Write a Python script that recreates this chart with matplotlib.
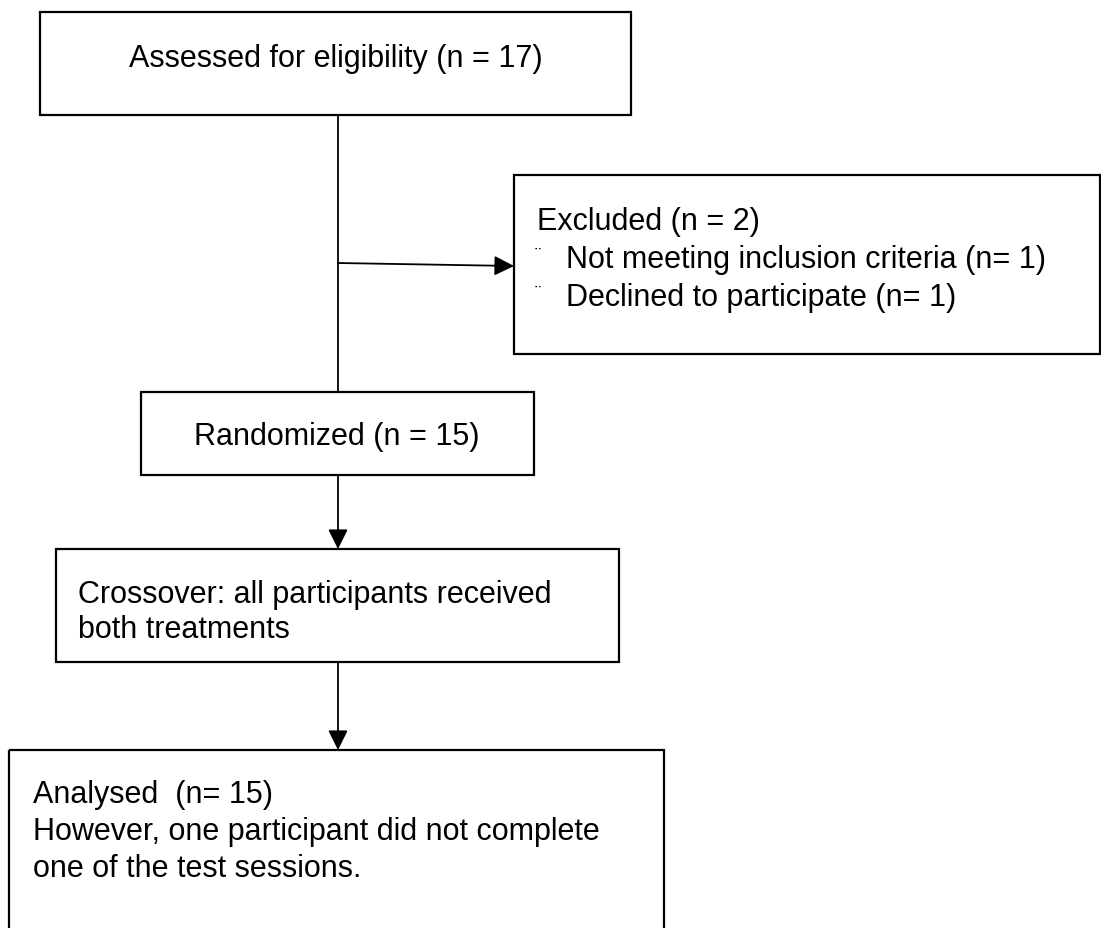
import matplotlib.pyplot as plt
from matplotlib.patches import Rectangle

# texts of the flow chart
assessed_label = 'Assessed for eligibility (n = 17)'
excluded_label = 'Excluded (n = 2)'
excluded_reasons = ['Not meeting inclusion criteria (n= 1)',
                    'Declined to participate (n= 1)']
randomized_label = 'Randomized (n = 15)'
crossover_lines = ['Crossover: all participants received', 'both treatments']
analysed_lines = ['Analysed  (n= 15)',
                  'However, one participant did not complete',
                  'one of the test sessions.']

W, H = 1101, 929
plt.rcParams['font.family'] = ['Liberation Sans', 'DejaVu Sans']
FS = 22

fig = plt.figure(figsize=(W / 100, H / 100), dpi=100)
ax = fig.add_axes([0, 0, 1, 1])
ax.set_xlim(0, W)
ax.set_ylim(H, 0)
ax.axis('off')


def box(x0, y0, x1, y1):
    ax.add_patch(Rectangle((x0, y0), x1 - x0, y1 - y0, fill=False,
                           edgecolor='black', linewidth=1.6, zorder=2))


def arrow(x0, y0, x1, y1):
    ax.annotate('', xy=(x1, y1), xytext=(x0, y0),
                arrowprops=dict(arrowstyle='-|>,head_length=1.2,head_width=0.6',
                                color='black', lw=1.3,
                                shrinkA=0, shrinkB=0))


# boxes (pixel coordinates)
box(40, 13, 631, 116)
box(514, 176, 1100, 355)
box(141, 393, 534, 476)
box(56, 550, 619, 663)
box(9, 751, 664, 940)

# connectors
ax.plot([338, 338], [116, 393], color='black', lw=1.3)
arrow(338, 264, 514, 267)
arrow(338, 476, 338, 550)
arrow(338, 663, 338, 751)

# texts
ax.text(336, 67, assessed_label, ha='center', va='baseline', fontsize=FS)
ax.text(337, 445, randomized_label, ha='center', va='baseline', fontsize=FS)

ax.text(537, 230, excluded_label, ha='left', va='baseline', fontsize=FS)
for i, reason in enumerate(excluded_reasons):
    y = 268 + i * 38
    ax.text(535, y - 8, '¨', ha='left', va='baseline', fontsize=14)
    ax.text(566, y, reason, ha='left', va='baseline', fontsize=FS)

for i, line in enumerate(crossover_lines):
    ax.text(78, 603 + i * 35, line, ha='left', va='baseline', fontsize=FS)

for i, line in enumerate(analysed_lines):
    ax.text(33, 803 + i * 37, line, ha='left', va='baseline', fontsize=FS)

fig.savefig('out.png', dpi=100, facecolor='white')
